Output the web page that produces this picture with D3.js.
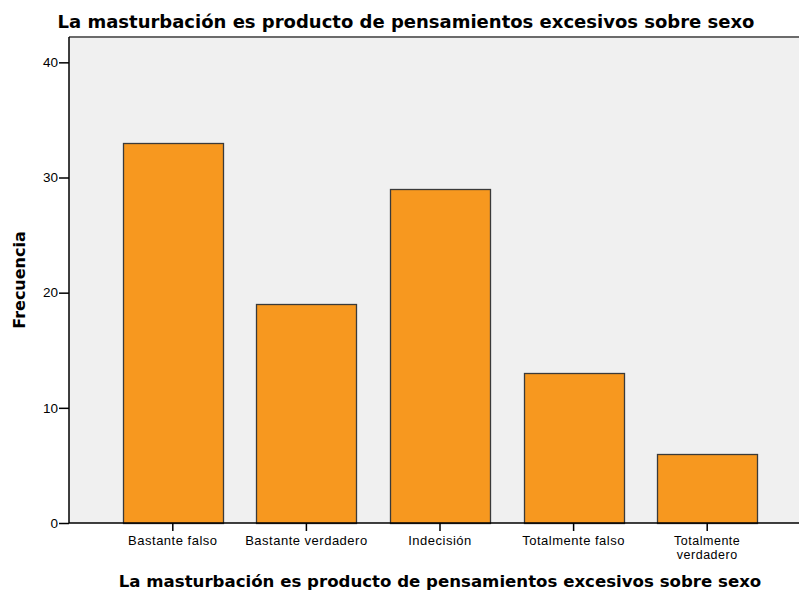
<!DOCTYPE html>
<html>
<head>
<meta charset="utf-8">
<script src="https://cdn.jsdelivr.net/npm/d3@7"></script>
<style>
  body { margin: 0; background: #fff; }
  text { font-family: "Liberation Sans", Arial, sans-serif; }
</style>
</head>
<body>
<div id="chart"></div>
<script>
// data
var categories = ["Bastante falso", "Bastante verdadero", "Indecisión", "Totalmente falso", "Totalmente verdadero"];
var frecuencias = [33, 19, 29, 13, 6];
var yTicks = [0, 10, 20, 30, 40];
var titulo = "La masturbación es producto de pensamientos excesivos sobre sexo";

var W = 799, H = 593;
var plot = {left: 69, right: 799, top: 37, bottom: 523};

var svg = d3.select("#chart").append("svg")
    .attr("width", W)
    .attr("height", H);

// chart title
svg.append("text")
    .attr("x", 406).attr("y", 28)
    .attr("text-anchor", "middle")
    .style("font-family", "'DejaVu Sans', sans-serif")
    .style("font-size", "18px").style("font-weight", "bold")
    .text(titulo);

// background
svg.append("rect")
    .attr("x", plot.left).attr("y", plot.top)
    .attr("width", plot.right - plot.left).attr("height", plot.bottom - plot.top)
    .attr("fill", "#f0f0f0");
svg.append("line")
    .attr("x1", plot.left).attr("x2", plot.right)
    .attr("y1", plot.top).attr("y2", plot.top)
    .attr("stroke", "#6b6b6b").attr("stroke-width", 2);

var x = d3.scaleBand()
    .domain(categories)
    .range([106, 774])
    .paddingInner(0.25)
    .paddingOuter(0.125);

var y = d3.scaleLinear()
    .domain([0, 42.2])
    .range([plot.bottom, plot.top]);

// bars
svg.append("g").selectAll("rect")
    .data(categories)
    .enter().append("rect")
    .attr("x", function(d) { return Math.round(x(d)) + 0.5; })
    .attr("y", function(d, i) { return Math.round(y(frecuencias[i])) + 0.5; })
    .attr("width", Math.round(x.bandwidth()))
    .attr("height", function(d, i) { return Math.round(y(0)) - Math.round(y(frecuencias[i])); })
    .attr("fill", "#f7981f")
    .attr("stroke", "#3a3a3a")
    .attr("stroke-width", 1.3);

// y axis
var yAxis = svg.append("g")
    .attr("transform", "translate(" + plot.left + ",0)")
    .call(d3.axisLeft(y).tickValues(yTicks).tickSize(10).tickPadding(1).tickFormat(d3.format("d")));
yAxis.select(".domain").attr("d", "M0," + plot.top + "V" + plot.bottom)
    .attr("stroke", "#000").attr("stroke-width", 1.5);
yAxis.selectAll(".tick line").attr("stroke", "#000").attr("stroke-width", 1.5);
yAxis.selectAll(".tick text").style("font-size", "13.5px").attr("fill", "#000")
    .style("font-family", "'Liberation Sans', Arial, sans-serif");

// x axis
var xAxis = svg.append("g")
    .attr("transform", "translate(0," + plot.bottom + ")")
    .call(d3.axisBottom(x).tickSize(8).tickPadding(5).tickSizeOuter(0));
xAxis.select(".domain").attr("d", "M" + plot.left + ",0H" + plot.right)
    .attr("stroke", "#000").attr("stroke-width", 1.5);
xAxis.selectAll(".tick line").attr("stroke", "#000").attr("stroke-width", 1.5);
xAxis.selectAll(".tick text").style("font-size", "13px").attr("fill", "#000")
    .style("letter-spacing", "0.5px")
    .style("font-family", "'Liberation Sans', Arial, sans-serif")
    .each(function(d) {
        var t = d3.select(this);
        if (d === "Totalmente verdadero") {
            t.text(null).style("font-size", "12.5px");
            t.append("tspan").attr("x", 0).attr("dy", "0.71em").text("Totalmente");
            t.append("tspan").attr("x", 0).attr("dy", "1.12em").text("verdadero");
            t.attr("dy", null);
        }
    });

// axis titles
svg.append("text")
    .attr("x", 440).attr("y", 587)
    .attr("text-anchor", "middle")
    .style("font-family", "'DejaVu Sans', sans-serif")
    .style("font-size", "16.6px").style("font-weight", "bold")
    .text(titulo);

svg.append("text")
    .attr("transform", "translate(25,280) rotate(-90)")
    .attr("text-anchor", "middle")
    .style("font-family", "'DejaVu Sans', sans-serif")
    .style("font-size", "16px").style("font-weight", "bold")
    .text("Frecuencia");
</script>
</body>
</html>
